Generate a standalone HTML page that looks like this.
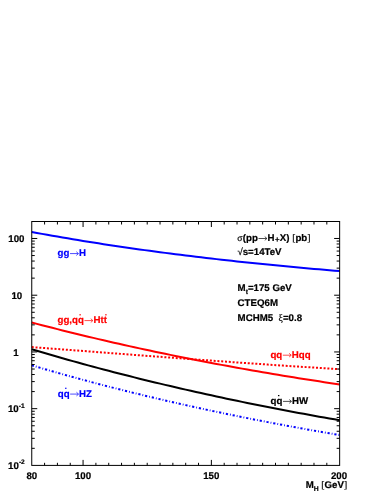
<!DOCTYPE html>
<html><head><meta charset="utf-8"><title>plot</title>
<style>
html,body{margin:0;padding:0;background:#fff;}
body{width:382px;height:494px;overflow:hidden;}
svg{display:block;will-change:transform;opacity:0.999}
text{font-family:"Liberation Sans",sans-serif;font-weight:bold;white-space:pre;stroke-width:0.2px;text-rendering:geometricPrecision}
.sy{font-family:"Liberation Serif",serif;font-weight:normal}
.ar{font-family:"Liberation Sans",sans-serif;font-weight:normal}
</style></head><body>
<svg width="382" height="494" viewBox="0 0 382 494">
<rect x="0" y="0" width="382" height="494" fill="#fff"/>
<g fill="none" stroke-linecap="butt" stroke-linejoin="round">
<path d="M31.75,347.09 L36.88,347.48 L42.01,347.86 L47.14,348.25 L52.28,348.64 L57.41,349.03 L62.54,349.42 L67.67,349.81 L72.80,350.21 L77.94,350.60 L83.07,350.99 L88.20,351.38 L93.33,351.77 L98.46,352.16 L103.59,352.55 L108.72,352.95 L113.86,353.34 L118.99,353.73 L124.12,354.12 L129.25,354.51 L134.38,354.90 L139.51,355.28 L144.65,355.67 L149.78,356.06 L154.91,356.44 L160.04,356.83 L165.17,357.21 L170.31,357.60 L175.44,357.98 L180.57,358.36 L185.70,358.74 L190.83,359.12 L195.96,359.49 L201.09,359.87 L206.23,360.24 L211.36,360.61 L216.49,360.98 L221.62,361.35 L226.75,361.72 L231.88,362.08 L237.02,362.45 L242.15,362.81 L247.28,363.16 L252.41,363.52 L257.54,363.87 L262.67,364.22 L267.81,364.57 L272.94,364.92 L278.07,365.26 L283.20,365.61 L288.33,365.94 L293.46,366.28 L298.60,366.61 L303.73,366.94 L308.86,367.27 L313.99,367.59 L319.12,367.91 L324.25,368.23 L329.39,368.54 L334.52,368.85 L339.65,369.16" stroke="#ff0000" stroke-width="2" stroke-dasharray="2,1.8"/>
<path d="M31.75,365.33 L36.88,366.85 L42.01,368.35 L47.14,369.83 L52.28,371.30 L57.41,372.76 L62.54,374.20 L67.67,375.64 L72.80,377.05 L77.94,378.46 L83.07,379.85 L88.20,381.23 L93.33,382.60 L98.46,383.95 L103.59,385.29 L108.72,386.62 L113.86,387.93 L118.99,389.24 L124.12,390.53 L129.25,391.81 L134.38,393.08 L139.51,394.33 L144.65,395.57 L149.78,396.81 L154.91,398.03 L160.04,399.23 L165.17,400.43 L170.31,401.62 L175.44,402.79 L180.57,403.96 L185.70,405.11 L190.83,406.25 L195.96,407.38 L201.09,408.50 L206.23,409.61 L211.36,410.71 L216.49,411.80 L221.62,412.88 L226.75,413.94 L231.88,415.00 L237.02,416.05 L242.15,417.09 L247.28,418.12 L252.41,419.13 L257.54,420.14 L262.67,421.14 L267.81,422.13 L272.94,423.11 L278.07,424.08 L283.20,425.04 L288.33,426.00 L293.46,426.94 L298.60,427.88 L303.73,428.80 L308.86,429.72 L313.99,430.63 L319.12,431.53 L324.25,432.42 L329.39,433.31 L334.52,434.18 L339.65,435.05" stroke="#0000ff" stroke-width="2" stroke-dasharray="2.2,2,0.8,1.9"/>
<path d="M31.75,322.53 L36.88,323.88 L42.01,325.21 L47.14,326.53 L52.28,327.84 L57.41,329.14 L62.54,330.43 L67.67,331.70 L72.80,332.96 L77.94,334.22 L83.07,335.46 L88.20,336.68 L93.33,337.90 L98.46,339.11 L103.59,340.30 L108.72,341.49 L113.86,342.66 L118.99,343.83 L124.12,344.98 L129.25,346.12 L134.38,347.25 L139.51,348.37 L144.65,349.48 L149.78,350.58 L154.91,351.66 L160.04,352.74 L165.17,353.81 L170.31,354.86 L175.44,355.91 L180.57,356.95 L185.70,357.98 L190.83,358.99 L195.96,360.00 L201.09,361.00 L206.23,361.98 L211.36,362.96 L216.49,363.93 L221.62,364.89 L226.75,365.84 L231.88,366.77 L237.02,367.70 L242.15,368.62 L247.28,369.54 L252.41,370.44 L257.54,371.33 L262.67,372.22 L267.81,373.09 L272.94,373.96 L278.07,374.81 L283.20,375.66 L288.33,376.50 L293.46,377.33 L298.60,378.16 L303.73,378.97 L308.86,379.77 L313.99,380.57 L319.12,381.36 L324.25,382.14 L329.39,382.91 L334.52,383.68 L339.65,384.43" stroke="#ff0000" stroke-width="2"/>
<path d="M31.75,349.27 L36.88,350.79 L42.01,352.31 L47.14,353.81 L52.28,355.30 L57.41,356.77 L62.54,358.24 L67.67,359.69 L72.80,361.12 L77.94,362.55 L83.07,363.96 L88.20,365.35 L93.33,366.74 L98.46,368.11 L103.59,369.47 L108.72,370.82 L113.86,372.16 L118.99,373.48 L124.12,374.79 L129.25,376.09 L134.38,377.38 L139.51,378.66 L144.65,379.93 L149.78,381.18 L154.91,382.42 L160.04,383.65 L165.17,384.87 L170.31,386.08 L175.44,387.28 L180.57,388.46 L185.70,389.64 L190.83,390.80 L195.96,391.96 L201.09,393.10 L206.23,394.23 L211.36,395.35 L216.49,396.46 L221.62,397.56 L226.75,398.66 L231.88,399.74 L237.02,400.81 L242.15,401.87 L247.28,402.92 L252.41,403.96 L257.54,404.99 L262.67,406.01 L267.81,407.03 L272.94,408.03 L278.07,409.02 L283.20,410.01 L288.33,410.98 L293.46,411.95 L298.60,412.91 L303.73,413.85 L308.86,414.79 L313.99,415.72 L319.12,416.65 L324.25,417.56 L329.39,418.47 L334.52,419.36 L339.65,420.25" stroke="#000000" stroke-width="2"/>
<path d="M31.75,231.99 L36.88,232.94 L42.01,233.87 L47.14,234.79 L52.28,235.70 L57.41,236.59 L62.54,237.48 L67.67,238.35 L72.80,239.21 L77.94,240.06 L83.07,240.90 L88.20,241.73 L93.33,242.54 L98.46,243.35 L103.59,244.14 L108.72,244.93 L113.86,245.70 L118.99,246.46 L124.12,247.21 L129.25,247.96 L134.38,248.69 L139.51,249.41 L144.65,250.12 L149.78,250.82 L154.91,251.52 L160.04,252.20 L165.17,252.87 L170.31,253.54 L175.44,254.19 L180.57,254.84 L185.70,255.48 L190.83,256.11 L195.96,256.73 L201.09,257.34 L206.23,257.94 L211.36,258.54 L216.49,259.12 L221.62,259.70 L226.75,260.27 L231.88,260.84 L237.02,261.39 L242.15,261.94 L247.28,262.48 L252.41,263.02 L257.54,263.55 L262.67,264.07 L267.81,264.58 L272.94,265.08 L278.07,265.58 L283.20,266.08 L288.33,266.57 L293.46,267.05 L298.60,267.52 L303.73,267.99 L308.86,268.45 L313.99,268.91 L319.12,269.36 L324.25,269.81 L329.39,270.25 L334.52,270.69 L339.65,271.12" stroke="#0000ff" stroke-width="2"/>
</g>
<rect x="31.75" y="221.5" width="307.90" height="243.90" fill="none" stroke="#000" stroke-width="1"/>
<path d="M44.58,465.4 v-2.6 M44.58,221.5 v3.0 M57.41,465.4 v-2.6 M57.41,221.5 v3.0 M70.24,465.4 v-2.6 M70.24,221.5 v3.0 M83.07,465.4 v-5.5 M83.07,221.5 v5.5 M95.90,465.4 v-2.6 M95.90,221.5 v3.0 M108.72,465.4 v-2.6 M108.72,221.5 v3.0 M121.55,465.4 v-2.6 M121.55,221.5 v3.0 M134.38,465.4 v-2.6 M134.38,221.5 v3.0 M147.21,465.4 v-2.6 M147.21,221.5 v3.0 M160.04,465.4 v-2.6 M160.04,221.5 v3.0 M172.87,465.4 v-2.6 M172.87,221.5 v3.0 M185.70,465.4 v-2.6 M185.70,221.5 v3.0 M198.53,465.4 v-2.6 M198.53,221.5 v3.0 M211.36,465.4 v-5.5 M211.36,221.5 v5.5 M224.19,465.4 v-2.6 M224.19,221.5 v3.0 M237.02,465.4 v-2.6 M237.02,221.5 v3.0 M249.85,465.4 v-2.6 M249.85,221.5 v3.0 M262.67,465.4 v-2.6 M262.67,221.5 v3.0 M275.50,465.4 v-2.6 M275.50,221.5 v3.0 M288.33,465.4 v-2.6 M288.33,221.5 v3.0 M301.16,465.4 v-2.6 M301.16,221.5 v3.0 M313.99,465.4 v-2.6 M313.99,221.5 v3.0 M326.82,465.4 v-2.6 M326.82,221.5 v3.0 M31.75,448.32 h3 M339.65,448.32 h-3 M31.75,438.33 h3 M339.65,438.33 h-3 M31.75,431.25 h3 M339.65,431.25 h-3 M31.75,425.75 h3 M339.65,425.75 h-3 M31.75,421.26 h3 M339.65,421.26 h-3 M31.75,417.46 h3 M339.65,417.46 h-3 M31.75,414.17 h3 M339.65,414.17 h-3 M31.75,411.27 h3 M339.65,411.27 h-3 M31.75,408.67 h5.5 M339.65,408.67 h-5.5 M31.75,391.59 h3 M339.65,391.59 h-3 M31.75,381.60 h3 M339.65,381.60 h-3 M31.75,374.52 h3 M339.65,374.52 h-3 M31.75,369.02 h3 M339.65,369.02 h-3 M31.75,364.53 h3 M339.65,364.53 h-3 M31.75,360.73 h3 M339.65,360.73 h-3 M31.75,357.44 h3 M339.65,357.44 h-3 M31.75,354.54 h3 M339.65,354.54 h-3 M31.75,351.94 h5.5 M339.65,351.94 h-5.5 M31.75,334.86 h3 M339.65,334.86 h-3 M31.75,324.87 h3 M339.65,324.87 h-3 M31.75,317.79 h3 M339.65,317.79 h-3 M31.75,312.29 h3 M339.65,312.29 h-3 M31.75,307.80 h3 M339.65,307.80 h-3 M31.75,304.00 h3 M339.65,304.00 h-3 M31.75,300.71 h3 M339.65,300.71 h-3 M31.75,297.81 h3 M339.65,297.81 h-3 M31.75,295.21 h5.5 M339.65,295.21 h-5.5 M31.75,278.13 h3 M339.65,278.13 h-3 M31.75,268.14 h3 M339.65,268.14 h-3 M31.75,261.06 h3 M339.65,261.06 h-3 M31.75,255.56 h3 M339.65,255.56 h-3 M31.75,251.07 h3 M339.65,251.07 h-3 M31.75,247.27 h3 M339.65,247.27 h-3 M31.75,243.98 h3 M339.65,243.98 h-3 M31.75,241.08 h3 M339.65,241.08 h-3 M31.75,238.48 h5.5 M339.65,238.48 h-5.5" stroke="#000" stroke-width="1" fill="none"/>
<text fill="#000000" stroke="#000000" font-size="9.7"><tspan x="26.41" y="478.90">80</tspan></text>
<text fill="#000000" stroke="#000000" font-size="9.7"><tspan x="74.91" y="478.90">100</tspan></text>
<text fill="#000000" stroke="#000000" font-size="9.7"><tspan x="203.21" y="478.90">150</tspan></text>
<text fill="#000000" stroke="#000000" font-size="9.7"><tspan x="330.91" y="478.90">200</tspan></text>
<text fill="#000000" stroke="#000000" font-size="9.7"><tspan x="8.31" y="242.40">100</tspan></text>
<text fill="#000000" stroke="#000000" font-size="9.7"><tspan x="11.41" y="299.30">10</tspan></text>
<text fill="#000000" stroke="#000000" font-size="9.7"><tspan x="13.30" y="355.70">1</tspan></text>
<text fill="#000000" stroke="#000000" font-size="9.7"><tspan x="7.99" y="412.20">10</tspan><tspan x="18.78" y="407.54" font-size="6.60">-1</tspan></text>
<text fill="#000000" stroke="#000000" font-size="9.7"><tspan x="8.09" y="468.90">10</tspan><tspan x="18.88" y="464.24" font-size="6.60">-2</tspan></text>
<text fill="#000000" stroke="#000000" font-size="9.7"><tspan x="305.63" y="487.80">M</tspan><tspan x="313.71" y="491.00" font-size="6.79">H</tspan><tspan class="sy" x="321.33" y="487.80">[</tspan><tspan x="324.56" y="487.80">GeV</tspan><tspan class="sy" x="343.97" y="487.80">]</tspan></text>
<text fill="#0000ff" stroke="#0000ff" font-size="9.7"><tspan x="57.60" y="256.40">gg</tspan><tspan x="79.02" y="256.40">H</tspan></text>
<text fill="#ff0000" stroke="#ff0000" font-size="9.7"><tspan x="57.50" y="323.40">gg,q</tspan><tspan x="77.97" y="323.40">q</tspan><tspan x="93.47" y="323.40">Ht</tspan><tspan x="103.70" y="323.40">t</tspan></text>
<text fill="#ff0000" stroke="#ff0000" font-size="9.7"><tspan x="270.40" y="358.00">qq</tspan><tspan x="291.82" y="358.00">Hqq</tspan></text>
<text fill="#000000" stroke="#000000" font-size="9.7"><tspan x="270.60" y="404.20">q</tspan><tspan x="276.53" y="404.20">q</tspan><tspan x="292.02" y="404.20">HW</tspan></text>
<text fill="#0000ff" stroke="#0000ff" font-size="9.7"><tspan x="57.70" y="396.90">q</tspan><tspan x="63.63" y="396.90">q</tspan><tspan x="79.12" y="396.90">HZ</tspan></text>
<text fill="#000000" stroke="#000000" font-size="9.7"><tspan class="sy" x="237.20" y="241.30">σ</tspan><tspan x="242.82" y="241.30">(pp</tspan><tspan x="267.47" y="241.30">H</tspan><tspan x="274.91" y="241.59" font-size="7.76">+</tspan><tspan x="279.80" y="241.30">X) </tspan><tspan class="sy" x="292.20" y="241.30">[</tspan><tspan x="295.43" y="241.30">pb</tspan><tspan class="sy" x="307.28" y="241.30">]</tspan></text>
<text fill="#000000" stroke="#000000" font-size="9.7"><tspan class="ar" x="237.40" y="255.40">√</tspan><tspan x="242.72" y="255.40">s=14TeV</tspan></text>
<text fill="#000000" stroke="#000000" font-size="9.7"><tspan x="237.60" y="291.00">M</tspan><tspan x="245.68" y="294.20" font-size="6.79">t</tspan><tspan x="247.94" y="291.00">=175 GeV</tspan></text>
<text fill="#000000" stroke="#000000" font-size="9.7"><tspan x="237.60" y="306.30">CTEQ6M</tspan></text>
<text fill="#000000" stroke="#000000" font-size="9.7"><tspan x="237.60" y="320.50">MCHM5</tspan><tspan class="sy" x="278.60" y="320.50">ξ</tspan><tspan x="282.92" y="320.50">=0.8</tspan></text>
<path d="M70.03,253.59 H78.17 M76.34,251.74 L78.47,253.59 L76.34,255.43" stroke="#0000ff" stroke-width="0.7" fill="none" stroke-linejoin="miter"/>
<rect x="79.43" y="314.19" width="1.4" height="1.2" fill="#ff0000"/>
<path d="M84.48,320.59 H92.62 M90.78,318.74 L92.92,320.59 L90.78,322.43" stroke="#ff0000" stroke-width="0.7" fill="none" stroke-linejoin="miter"/>
<rect x="105.22" y="314.19" width="1.4" height="1.2" fill="#ff0000"/>
<path d="M282.83,355.19 H290.97 M289.14,353.34 L291.27,355.19 L289.14,357.03" stroke="#ff0000" stroke-width="0.7" fill="none" stroke-linejoin="miter"/>
<rect x="277.99" y="394.99" width="1.4" height="1.2" fill="#000000"/>
<path d="M283.03,401.39 H291.17 M289.34,399.54 L291.47,401.39 L289.34,403.23" stroke="#000000" stroke-width="0.7" fill="none" stroke-linejoin="miter"/>
<rect x="65.09" y="387.69" width="1.4" height="1.2" fill="#0000ff"/>
<path d="M70.13,394.09 H78.27 M76.44,392.24 L78.57,394.09 L76.44,395.93" stroke="#0000ff" stroke-width="0.7" fill="none" stroke-linejoin="miter"/>
<path d="M258.48,238.49 H266.62 M264.78,236.64 L266.92,238.49 L264.78,240.33" stroke="#000000" stroke-width="0.7" fill="none" stroke-linejoin="miter"/>
</svg>
</body></html>
